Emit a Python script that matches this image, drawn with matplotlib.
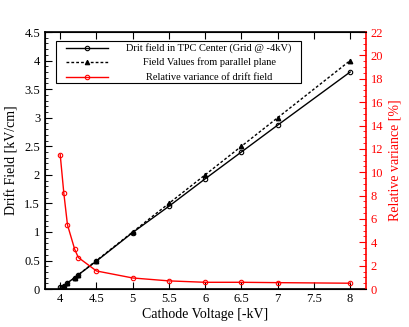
import matplotlib
matplotlib.use("Agg")
import matplotlib.pyplot as plt
from matplotlib.lines import Line2D
from matplotlib.patches import Rectangle
from matplotlib.ticker import MultipleLocator

plt.rcParams['font.family'] = ['Liberation Serif', 'DejaVu Serif']
plt.rcParams['mathtext.fontset'] = 'stix'

voltage = [4.0, 4.05, 4.1, 4.2, 4.25, 4.5, 5.0, 5.5, 6.0, 6.5, 7.0, 8.0]
drift_center = [0.04, 0.06, 0.11, 0.2, 0.25, 0.49, 0.99, 1.45, 1.93, 2.4, 2.87, 3.8]
field_plane = [0.0, 0.05, 0.1, 0.2, 0.25, 0.5, 1.0, 1.5, 2.0, 2.5, 3.0, 4.0]
rel_variance = [11.5, 8.2, 5.5, 3.4, 2.7, 1.55, 0.95, 0.7, 0.58, 0.58, 0.55, 0.5]

labels = ["Drit field in TPC Center (Grid @ -4kV)",
          "Field Values from parallel plane",
          "Relative variance of drift field"]

fig = plt.figure(figsize=(4.09, 3.27), dpi=100)
ax = fig.add_axes([0.110, 0.116, 0.785, 0.786])
ax2 = ax.twinx()

lw = 1.0
ax.plot(voltage, drift_center, color='black', lw=lw, marker='o', ms=3.2,
        mfc='none', mec='black', mew=0.8, zorder=3)
ax.plot(voltage, field_plane, color='black', lw=lw, ls=(0, (2, 1.5)), marker='^',
        ms=3.2, mfc='black', mec='black', zorder=3)
ax2.plot(voltage, rel_variance, color='red', lw=lw, marker='o', ms=3.2,
         mfc='none', mec='red', mew=0.8)

ax.set_xlim(3.79, 8.22)
ax.set_ylim(0, 4.5)
ax2.set_ylim(0, 22)

ax.yaxis.set_minor_locator(MultipleLocator(0.1))
ax2.yaxis.set_major_locator(MultipleLocator(2))
ax2.yaxis.set_minor_locator(MultipleLocator(0.5))

ax.set_xticks([4, 4.5, 5, 5.5, 6, 6.5, 7, 7.5, 8])
ax.set_xticklabels(['4', '4.5', '5', '5.5', '6', '6.5', '7', '7.5', '8'])
ax.set_yticks([0, 0.5, 1, 1.5, 2, 2.5, 3, 3.5, 4, 4.5])
ax.set_yticklabels(['0', '0.5', '1', '1.5', '2', '2.5', '3', '3.5', '4', '4.5'])

ax.tick_params(axis='x', which='both', direction='in', top=True, bottom=True,
               length=5, width=0.8, labelsize=9, pad=3)
ax.tick_params(axis='y', which='major', direction='in', left=True, right=False,
               length=5, width=0.8, labelsize=9)
ax.tick_params(axis='y', which='minor', direction='in', left=True, right=False,
               length=2.5, width=0.6)
ax2.tick_params(axis='y', which='major', direction='in', right=True, left=False,
                length=5, width=0.8, labelsize=9, colors='red')
ax2.tick_params(axis='y', which='minor', direction='in', right=True, left=False,
                length=2.5, width=0.6, colors='red')
ax2.spines['right'].set_color('red')
ax2.spines['right'].set_linewidth(1.2)
for s in ['left', 'bottom', 'top']:
    ax.spines[s].set_linewidth(1.2)
ax.spines['right'].set_visible(False)

ax.set_xlabel('Cathode Voltage [-kV]', fontsize=10, labelpad=2)
ax.set_ylabel('Drift Field [kV/cm]', fontsize=10, labelpad=4)
ax2.set_ylabel('Relative variance [%]', fontsize=10, color='red', labelpad=4)

# legend box drawn manually (centered labels)
ax2.add_patch(Rectangle((0.034, 0.802), 0.764, 0.163, transform=ax.transAxes,
                        facecolor='white', edgecolor='black', lw=0.8, zorder=10))
rows = [0.938, 0.883, 0.825]
styles = [dict(color='black', ls='-', marker='o', mfc='none', mec='black'),
          dict(color='black', ls=(0, (2, 1.5)), marker='^', mfc='black', mec='black'),
          dict(color='red', ls='-', marker='o', mfc='none', mec='red')]
for y, st, lab in zip(rows, styles, labels):
    ax2.add_line(Line2D([0.065, 0.196], [y, y], transform=ax.transAxes, lw=lw,
                        color=st['color'], ls=st['ls'], zorder=11))
    ax2.add_line(Line2D([0.1305], [y], transform=ax.transAxes,
                        lw=0, ms=3.2, mew=0.8, marker=st['marker'], mfc=st['mfc'],
                        mec=st['mec'], zorder=12))
    ax2.text(0.511, y, lab, transform=ax.transAxes, ha='center', va='center',
             fontsize=7.5, zorder=12)

fig.savefig('out.png', dpi=100)
